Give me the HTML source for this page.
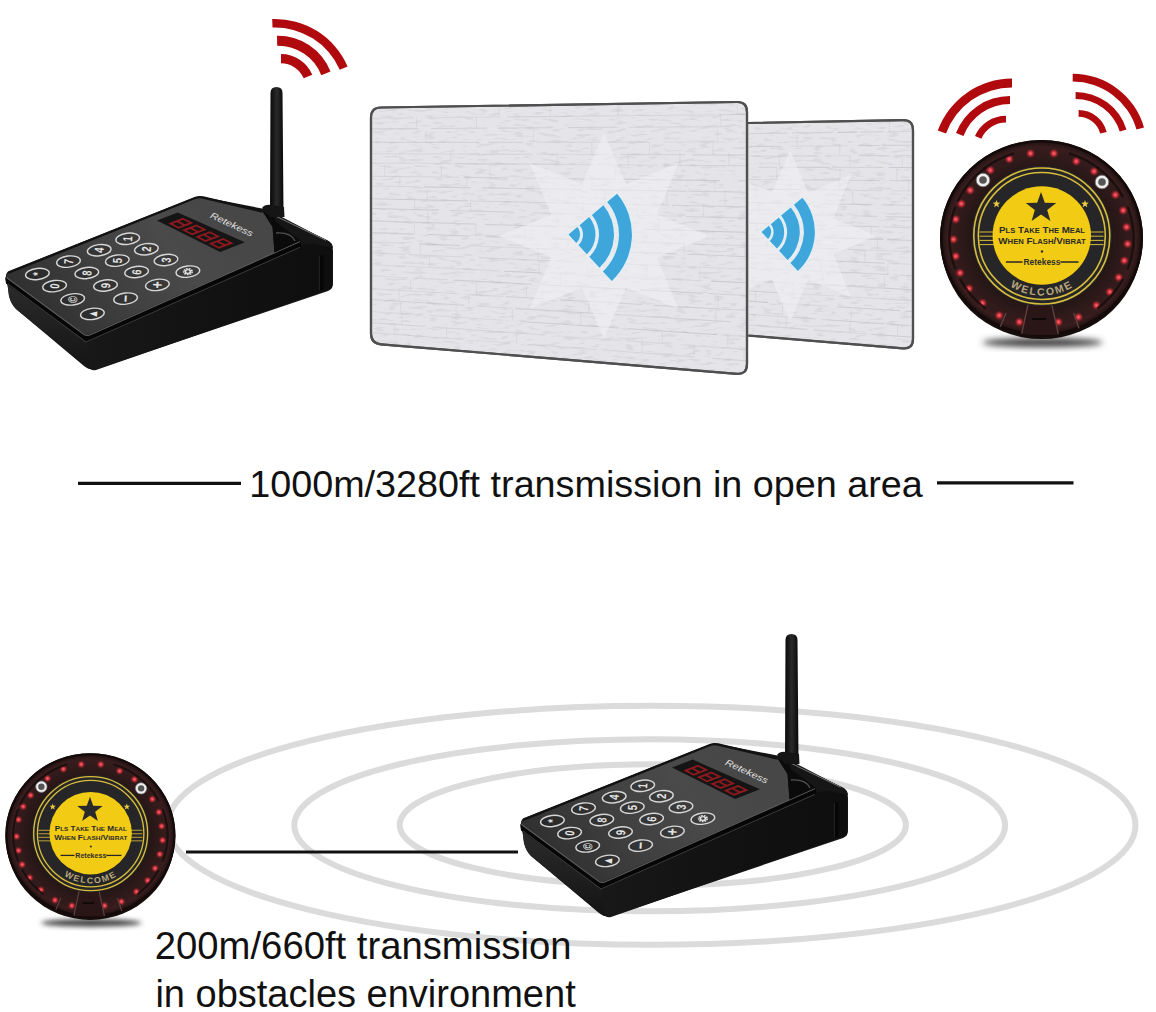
<!DOCTYPE html>
<html><head><meta charset="utf-8"><style>
html,body{margin:0;padding:0;background:#fff;}
body{width:1156px;height:1012px;overflow:hidden;font-family:"Liberation Sans",sans-serif;}
svg{display:block;}
</style></head><body>
<svg width="1156" height="1012" viewBox="0 0 1156 1012">
<defs><linearGradient id="faceG" gradientUnits="userSpaceOnUse" x1="40" y1="320" x2="200" y2="200">
<stop offset="0" stop-color="#303030"/><stop offset="0.4" stop-color="#404040"/><stop offset="0.75" stop-color="#4a4a4a"/><stop offset="1" stop-color="#474747"/></linearGradient>
<linearGradient id="bodyG" x1="0" y1="0" x2="1" y2="0">
<stop offset="0" stop-color="#181818"/><stop offset="0.5" stop-color="#121212"/><stop offset="1" stop-color="#0e0e0e"/></linearGradient>
<linearGradient id="leftG" x1="0" y1="0" x2="0" y2="1">
<stop offset="0" stop-color="#2c2c2c"/><stop offset="1" stop-color="#141414"/></linearGradient>
<linearGradient id="antG" x1="0" y1="0" x2="1" y2="0">
<stop offset="0" stop-color="#080808"/><stop offset="0.5" stop-color="#2a2a2a"/><stop offset="1" stop-color="#080808"/></linearGradient>
<radialGradient id="pagerG" cx="0.5" cy="0.5" r="0.5">
<stop offset="0.65" stop-color="#211515"/><stop offset="0.8" stop-color="#2e1919"/><stop offset="0.93" stop-color="#381d1d"/><stop offset="1" stop-color="#180d0d"/></radialGradient>
<radialGradient id="ledG" cx="0.5" cy="0.5" r="0.5">
<stop offset="0" stop-color="#ff6e78"/><stop offset="0.4" stop-color="#d0323c"/><stop offset="1" stop-color="#7a1a1e" stop-opacity="0"/></radialGradient>
<filter id="speck" x="0" y="0" width="100%" height="100%" filterUnits="objectBoundingBox">
<feTurbulence type="fractalNoise" baseFrequency="0.08 0.32" numOctaves="2" seed="5" result="n"/>
<feColorMatrix in="n" type="matrix" values="0 0 0 0 0.6  0 0 0 0 0.6  0 0 0 0 0.63  6 0 0 0 -3.3"/>
</filter>
<filter id="bblur" x="-5%" y="-5%" width="110%" height="110%"><feGaussianBlur stdDeviation="0.5"/></filter>
<filter id="blur3" x="-50%" y="-50%" width="200%" height="200%"><feGaussianBlur stdDeviation="3"/></filter>
<filter id="blur1" x="-50%" y="-50%" width="200%" height="200%"><feGaussianBlur stdDeviation="0.8"/></filter>
<g id="device"><path d="M270.5,93 Q270.5,87 276.5,87 Q282.5,87 282.5,93 L283.5,214 L270,214 Z" fill="url(#antG)"/><path d="M7,281 L9,296 Q11,304 16,309 L84,366 Q90,371 97,369 L328,291 Q333,289 333,284 L333,251 Q333,242 326,240 L278,215 L270,210 L203,197 Q198,196 193,198 L9,271 Q4,274 7,281 Z" fill="#151515"/><path d="M7,280 L87,340 L90,369 L16,309 Q11,304 9,296 Z" fill="url(#leftG)"/><path d="M87,340 L301,245 L326,242.5 Q332,244 332,250 L332,288 L96,370 Q91,371 90,368 Z" fill="url(#bodyG)"/><path d="M5,277 L87,336 L300.7,241 L301,247 L87,342 L6,283.5 Z" fill="#060606"/><path d="M8,284 L86,342 L300,247.3" fill="none" stroke="#3c3c3c" stroke-width="1"/><path d="M8,273 L195,198 Q199,196.5 203,197.5 L262.6,211.5 L272.5,227 L274.5,252.5 L91,333.5 Q87,335.5 83,333 L9,279 Q4.5,276 8,273 Z" fill="url(#faceG)"/><path d="M6.5,277.5 L84,334.5 Q87,336.3 91,334.5 L300,241.5" fill="none" stroke="#5e5e5e" stroke-width="1.1"/><path d="M8,273 L195,198 Q199,196.5 203,197.5 L262.6,211.5" fill="none" stroke="#121212" stroke-width="2.4"/><path d="M262.6,211.5 L276,218 L301,240.5 L274.5,252.5 L272.5,227 Z" fill="#0b0b0b"/><path d="M276,233 Q291,232 295,241" fill="none" stroke="#505050" stroke-width="1.3"/><path d="M273.5,214.5 L326,239.5 Q333,242.5 333,248 L301,241 L276,222 Z" fill="#161616"/><path d="M274,215.3 L326,240.3" stroke="#7a7a7a" stroke-width="1"/><path d="M319.5,256 L323.5,255 L323.5,289.5 L319.5,290.5 Z" fill="#060606"/><path d="M319.3,256 L319.3,290.5" stroke="#2e2e2e" stroke-width="0.8"/><path d="M262,208 Q265,204 271,205 L284,207 L284.5,217 L270,217 Z" fill="#151515"/><path d="M157,220.5 L177.7,212.6 L244.9,242.3 L220.2,252.1 Z" fill="#151515"/><path d="M168.32,223.42 L178.75,228.64 L193.45,223.03 L183.02,217.81 Z M172.87,223.69 L178.75,226.63 L182.68,225.13 L176.81,222.19 Z M179.08,221.32 L184.96,224.26 L188.89,222.76 L183.02,219.82 Z" fill="#8c191e" fill-rule="evenodd"/><path d="M181.72,230.12 L192.15,235.34 L206.84,229.73 L196.42,224.51 Z M186.27,230.39 L192.15,233.33 L196.08,231.83 L190.20,228.89 Z M192.48,228.02 L198.36,230.96 L202.29,229.46 L196.41,226.52 Z" fill="#8c191e" fill-rule="evenodd"/><path d="M195.12,236.82 L205.55,242.04 L220.24,236.43 L209.81,231.21 Z M199.67,237.09 L205.55,240.03 L209.48,238.53 L203.60,235.59 Z M205.88,234.72 L211.76,237.66 L215.69,236.16 L209.81,233.22 Z" fill="#8c191e" fill-rule="evenodd"/><path d="M208.52,243.52 L218.94,248.73 L233.64,243.13 L223.21,237.91 Z M213.07,243.79 L218.95,246.73 L222.88,245.23 L217.00,242.29 Z M219.28,241.42 L225.16,244.36 L229.09,242.86 L223.21,239.92 Z" fill="#8c191e" fill-rule="evenodd"/><text transform="translate(209.5,217.5) rotate(25) scale(1,0.85)" font-family="Liberation Sans" font-style="italic" font-size="10.6" fill="#e2e2e2" textLength="46" lengthAdjust="spacingAndGlyphs">Retekess</text><ellipse cx="127.7" cy="238.8" rx="11.9" ry="5.6" transform="rotate(-7 127.7 238.8)" fill="#000" fill-opacity="0.18" stroke="#d6d6d6" stroke-width="1.4"/><text x="0" y="0" text-anchor="middle" dominant-baseline="central" font-family="Liberation Sans" font-size="13" font-weight="bold" fill="#e4e4e4" transform="translate(127.7 238.8) rotate(-86) scale(0.72,1)">1</text><ellipse cx="146.4" cy="249.2" rx="11.9" ry="5.6" transform="rotate(-7 146.4 249.2)" fill="#000" fill-opacity="0.18" stroke="#d6d6d6" stroke-width="1.4"/><text x="0" y="0" text-anchor="middle" dominant-baseline="central" font-family="Liberation Sans" font-size="13" font-weight="bold" fill="#e4e4e4" transform="translate(146.4 249.2) rotate(-86) scale(0.72,1)">2</text><ellipse cx="166" cy="260" rx="11.9" ry="5.6" transform="rotate(-7 166 260)" fill="#000" fill-opacity="0.18" stroke="#d6d6d6" stroke-width="1.4"/><text x="0" y="0" text-anchor="middle" dominant-baseline="central" font-family="Liberation Sans" font-size="13" font-weight="bold" fill="#e4e4e4" transform="translate(166 260) rotate(-86) scale(0.72,1)">3</text><ellipse cx="187.9" cy="271.6" rx="11.9" ry="5.6" transform="rotate(-7 187.9 271.6)" fill="#000" fill-opacity="0.18" stroke="#d6d6d6" stroke-width="1.4"/><g transform="translate(187.9 271.6) scale(1.1,0.8)"><circle r="3.5" fill="none" stroke="#e8e8e8" stroke-width="2.3" stroke-dasharray="1.5 0.9"/><circle r="2.2" fill="none" stroke="#e8e8e8" stroke-width="1.3"/></g><ellipse cx="99.2" cy="250.2" rx="11.9" ry="5.6" transform="rotate(-7 99.2 250.2)" fill="#000" fill-opacity="0.18" stroke="#d6d6d6" stroke-width="1.4"/><text x="0" y="0" text-anchor="middle" dominant-baseline="central" font-family="Liberation Sans" font-size="13" font-weight="bold" fill="#e4e4e4" transform="translate(99.2 250.2) rotate(-86) scale(0.72,1)">4</text><ellipse cx="117.3" cy="260.6" rx="11.9" ry="5.6" transform="rotate(-7 117.3 260.6)" fill="#000" fill-opacity="0.18" stroke="#d6d6d6" stroke-width="1.4"/><text x="0" y="0" text-anchor="middle" dominant-baseline="central" font-family="Liberation Sans" font-size="13" font-weight="bold" fill="#e4e4e4" transform="translate(117.3 260.6) rotate(-86) scale(0.72,1)">5</text><ellipse cx="136.6" cy="272" rx="11.9" ry="5.6" transform="rotate(-7 136.6 272)" fill="#000" fill-opacity="0.18" stroke="#d6d6d6" stroke-width="1.4"/><text x="0" y="0" text-anchor="middle" dominant-baseline="central" font-family="Liberation Sans" font-size="13" font-weight="bold" fill="#e4e4e4" transform="translate(136.6 272) rotate(-86) scale(0.72,1)">6</text><ellipse cx="157.4" cy="284.9" rx="11.9" ry="5.6" transform="rotate(-7 157.4 284.9)" fill="#000" fill-opacity="0.18" stroke="#d6d6d6" stroke-width="1.4"/><text x="0" y="0" text-anchor="middle" dominant-baseline="central" font-family="Liberation Sans" font-size="17" font-weight="bold" fill="#e4e4e4" transform="translate(157.4 284.9) rotate(-86) scale(0.72,1)">+</text><ellipse cx="68.5" cy="261.6" rx="11.9" ry="5.6" transform="rotate(-7 68.5 261.6)" fill="#000" fill-opacity="0.18" stroke="#d6d6d6" stroke-width="1.4"/><text x="0" y="0" text-anchor="middle" dominant-baseline="central" font-family="Liberation Sans" font-size="13" font-weight="bold" fill="#e4e4e4" transform="translate(68.5 261.6) rotate(-86) scale(0.72,1)">7</text><ellipse cx="86.8" cy="273" rx="11.9" ry="5.6" transform="rotate(-7 86.8 273)" fill="#000" fill-opacity="0.18" stroke="#d6d6d6" stroke-width="1.4"/><text x="0" y="0" text-anchor="middle" dominant-baseline="central" font-family="Liberation Sans" font-size="13" font-weight="bold" fill="#e4e4e4" transform="translate(86.8 273) rotate(-86) scale(0.72,1)">8</text><ellipse cx="105.5" cy="285.5" rx="11.9" ry="5.6" transform="rotate(-7 105.5 285.5)" fill="#000" fill-opacity="0.18" stroke="#d6d6d6" stroke-width="1.4"/><text x="0" y="0" text-anchor="middle" dominant-baseline="central" font-family="Liberation Sans" font-size="13" font-weight="bold" fill="#e4e4e4" transform="translate(105.5 285.5) rotate(-86) scale(0.72,1)">9</text><ellipse cx="125.6" cy="298.6" rx="11.9" ry="5.6" transform="rotate(-7 125.6 298.6)" fill="#000" fill-opacity="0.18" stroke="#d6d6d6" stroke-width="1.4"/><text x="0" y="0" text-anchor="middle" dominant-baseline="central" font-family="Liberation Sans" font-size="17" font-weight="bold" fill="#e4e4e4" transform="translate(125.6 298.6) rotate(-86) scale(0.72,1)">−</text><ellipse cx="37.4" cy="274" rx="11.9" ry="5.6" transform="rotate(-7 37.4 274)" fill="#000" fill-opacity="0.18" stroke="#d6d6d6" stroke-width="1.4"/><text x="0" y="0" text-anchor="middle" dominant-baseline="central" font-family="Liberation Sans" font-size="13" font-weight="bold" fill="#e4e4e4" transform="translate(37.4 274) rotate(-86) scale(0.72,1)">*</text><ellipse cx="54.6" cy="286.1" rx="11.9" ry="5.6" transform="rotate(-7 54.6 286.1)" fill="#000" fill-opacity="0.18" stroke="#d6d6d6" stroke-width="1.4"/><text x="0" y="0" text-anchor="middle" dominant-baseline="central" font-family="Liberation Sans" font-size="13" font-weight="bold" fill="#e4e4e4" transform="translate(54.6 286.1) rotate(-86) scale(0.72,1)">0</text><ellipse cx="72.7" cy="299.4" rx="11.9" ry="5.6" transform="rotate(-7 72.7 299.4)" fill="#000" fill-opacity="0.18" stroke="#d6d6d6" stroke-width="1.4"/><text x="0" y="0" text-anchor="middle" dominant-baseline="central" font-family="Liberation Sans" font-size="13" font-weight="bold" fill="#e4e4e4" transform="translate(72.7 299.4) rotate(-86) scale(0.72,1)">©</text><ellipse cx="92.4" cy="313.9" rx="11.9" ry="5.6" transform="rotate(-7 92.4 313.9)" fill="#000" fill-opacity="0.18" stroke="#d6d6d6" stroke-width="1.4"/><text x="0" y="0" text-anchor="middle" dominant-baseline="central" font-family="Liberation Sans" font-size="13" font-weight="bold" fill="#e4e4e4" transform="translate(92.4 313.9) rotate(-86) scale(0.72,1)">▲</text></g><g id="pager"><ellipse cx="1" cy="104.5" rx="60" ry="4.5" fill="#404040" filter="url(#blur3)"/><ellipse cx="0" cy="3.5" rx="100.5" ry="97.5" fill="#160c0c"/><clipPath id="pclip"><ellipse cx="0" cy="0" rx="101" ry="97.5"/></clipPath><ellipse cx="0" cy="0" rx="101.5" ry="98" fill="url(#pagerG)"/><ellipse cx="0" cy="0" rx="100.2" ry="96.7" fill="none" stroke="#140a0a" stroke-width="2.6"/><g clip-path="url(#pclip)"><circle cx="-32.2" cy="-79" r="5" fill="url(#ledG)"/><circle cx="-11" cy="-84.6" r="5" fill="url(#ledG)"/><circle cx="12.4" cy="-84.6" r="5" fill="url(#ledG)"/><circle cx="34.8" cy="-76.7" r="5" fill="url(#ledG)"/><circle cx="52.6" cy="-66.7" r="5" fill="url(#ledG)"/><circle cx="73.9" cy="-43.2" r="5" fill="url(#ledG)"/><circle cx="81.7" cy="-27.6" r="5" fill="url(#ledG)"/><circle cx="85" cy="-10.9" r="5" fill="url(#ledG)"/><circle cx="86.1" cy="5.9" r="5" fill="url(#ledG)"/><circle cx="82.8" cy="22.6" r="5" fill="url(#ledG)"/><circle cx="77.2" cy="39.4" r="5" fill="url(#ledG)"/><circle cx="68.3" cy="53.9" r="5" fill="url(#ledG)"/><circle cx="54.9" cy="67.3" r="5" fill="url(#ledG)"/><circle cx="37" cy="79.1" r="5" fill="url(#ledG)"/><circle cx="16.9" cy="84" r="5" fill="url(#ledG)"/><circle cx="-51.2" cy="-67.8" r="5" fill="url(#ledG)"/><circle cx="-71.3" cy="-47.7" r="5" fill="url(#ledG)"/><circle cx="-80.2" cy="-34.3" r="5" fill="url(#ledG)"/><circle cx="-85.8" cy="-18.7" r="5" fill="url(#ledG)"/><circle cx="-88.1" cy="1.4" r="5" fill="url(#ledG)"/><circle cx="-85.8" cy="18.2" r="5" fill="url(#ledG)"/><circle cx="-81.4" cy="34.9" r="5" fill="url(#ledG)"/><circle cx="-72.4" cy="50.6" r="5" fill="url(#ledG)"/><circle cx="-59" cy="65.1" r="5" fill="url(#ledG)"/><circle cx="-42.3" cy="77.4" r="5" fill="url(#ledG)"/><circle cx="-22.2" cy="84" r="5" fill="url(#ledG)"/><circle cx="-58.5" cy="-58" r="6.8" fill="#eee" stroke="#777" stroke-width="0.8"/><circle cx="-58.5" cy="-58" r="3.8" fill="#555"/><circle cx="60.5" cy="-56" r="6.8" fill="#eee" stroke="#777" stroke-width="0.8"/><circle cx="60.5" cy="-56" r="3.8" fill="#555"/><path d="M-13.5,66.7 L10.3,66.7 L17,97 L-20.1,97 Z" fill="#2a1616"/><path d="M-13.5,66.7 L-20.1,97.2 M10.3,66.7 L17,97.2 M-35.5,75 L-41.5,89.6 M32.2,75 L37.9,91.5" stroke="#5e4040" stroke-width="1.4" fill="none"/><path d="M-9.5,81 L4.5,81" stroke="#0e0808" stroke-width="2.2"/></g><path d="M-86.5,30.4 A92,88.78 0 0 1 -86.5,-30.4" fill="none" stroke="#150c0c" stroke-width="2.4" stroke-linecap="round" opacity="0.8"/><path d="M-83.4,-37.5 A92,88.78 0 0 1 -56.6,-70.0" fill="none" stroke="#150c0c" stroke-width="2.4" stroke-linecap="round" opacity="0.8"/><path d="M-56.6,70.0 A92,88.78 0 0 1 -81.2,41.7" fill="none" stroke="#150c0c" stroke-width="2.4" stroke-linecap="round" opacity="0.8"/><path d="M86.5,-30.4 A92,88.78 0 0 1 86.5,30.4" fill="none" stroke="#150c0c" stroke-width="2.4" stroke-linecap="round" opacity="0.8"/><path d="M81.2,41.7 A92,88.78 0 0 1 56.6,70.0" fill="none" stroke="#150c0c" stroke-width="2.4" stroke-linecap="round" opacity="0.8"/><path d="M56.6,-70.0 A92,88.78 0 0 1 81.2,-41.7" fill="none" stroke="#150c0c" stroke-width="2.4" stroke-linecap="round" opacity="0.8"/><path d="M-56.6,-70.0 A92,88.78 0 0 1 -28.4,-84.4" fill="none" stroke="#150c0c" stroke-width="2.4" stroke-linecap="round" opacity="0.8"/><path d="M28.4,-84.4 A92,88.78 0 0 1 56.6,-70.0" fill="none" stroke="#150c0c" stroke-width="2.4" stroke-linecap="round" opacity="0.8"/><circle cx="0.3" cy="-2" r="70" fill="#262628"/><circle cx="0.3" cy="-2" r="68" fill="none" stroke="#d8bc3c" stroke-width="1.6"/><circle cx="0.3" cy="-2" r="63.5" fill="none" stroke="#d8bc3c" stroke-width="1.6"/><line x1="-62" y1="-6.0" x2="-46" y2="-6.0" stroke="#d8bc3c" stroke-width="1"/><line x1="46" y1="-6.0" x2="62" y2="-6.0" stroke="#d8bc3c" stroke-width="1"/><line x1="-62" y1="-1.7999999999999998" x2="-46" y2="-1.7999999999999998" stroke="#d8bc3c" stroke-width="1"/><line x1="46" y1="-1.7999999999999998" x2="62" y2="-1.7999999999999998" stroke="#d8bc3c" stroke-width="1"/><line x1="-62" y1="2.4000000000000004" x2="-46" y2="2.4000000000000004" stroke="#d8bc3c" stroke-width="1"/><line x1="46" y1="2.4000000000000004" x2="62" y2="2.4000000000000004" stroke="#d8bc3c" stroke-width="1"/><line x1="-62" y1="6.600000000000001" x2="-46" y2="6.600000000000001" stroke="#d8bc3c" stroke-width="1"/><line x1="46" y1="6.600000000000001" x2="62" y2="6.600000000000001" stroke="#d8bc3c" stroke-width="1"/><circle cx="0.3" cy="-2.5" r="49.2" fill="#f2cb14"/><path d="M-0.50,-46.00 L3.32,-35.26 L14.72,-34.94 L5.68,-27.99 L8.90,-17.06 L-0.50,-23.50 L-9.90,-17.06 L-6.68,-27.99 L-15.72,-34.94 L-4.32,-35.26 Z" fill="#2a2a2a"/><path d="M-45.00,-38.00 L-44.00,-35.38 L-41.20,-35.24 L-43.38,-33.47 L-42.65,-30.76 L-45.00,-32.30 L-47.35,-30.76 L-46.62,-33.47 L-48.80,-35.24 L-46.00,-35.38 Z" fill="#e8c840"/><path d="M43.50,-38.00 L44.50,-35.38 L47.30,-35.24 L45.12,-33.47 L45.85,-30.76 L43.50,-32.30 L41.15,-30.76 L41.88,-33.47 L39.70,-35.24 L42.50,-35.38 Z" fill="#e8c840"/><text x="0.5" y="-5.5" text-anchor="middle" font-family="Liberation Sans" font-weight="bold" font-size="9" fill="#2a2a2a" textLength="86" lengthAdjust="spacingAndGlyphs">P<tspan font-size="7">LS</tspan> T<tspan font-size="7">AKE</tspan> T<tspan font-size="7">HE</tspan> M<tspan font-size="7">EAL</tspan></text><text x="0.5" y="5.5" text-anchor="middle" font-family="Liberation Sans" font-weight="bold" font-size="9" fill="#2a2a2a" textLength="87.5" lengthAdjust="spacingAndGlyphs">W<tspan font-size="7">HEN</tspan> F<tspan font-size="7">LASH</tspan>/V<tspan font-size="7">IBRAT</tspan></text><circle cx="0.5" cy="13.5" r="1.2" fill="#2a2a2a"/><line x1="-35.6" y1="24" x2="-19" y2="24" stroke="#262626" stroke-width="1.5"/><line x1="19" y1="24" x2="37" y2="24" stroke="#262626" stroke-width="1.5"/><text x="0.5" y="27" text-anchor="middle" font-family="Liberation Sans" font-weight="bold" font-size="8.5" fill="#2e2e2e" textLength="37" lengthAdjust="spacingAndGlyphs">Retekess</text><path id="wpath" d="M-59,-2 A58,58 0 0 0 60,-2" fill="none"/><text font-family="Liberation Sans" font-size="10.5" font-weight="bold" letter-spacing="1.8" fill="#b8a77c"><textPath href="#wpath" startOffset="50%" text-anchor="middle">WELCOME</textPath></text></g></defs>
<rect width="1156" height="1012" fill="#fff"/>
<path d="M272.2,19.0 A79.3,79.3 0 0 1 347.6,66.4 L339.8,69.8 A70.8,70.8 0 0 0 272.5,27.5 Z" fill="#b0090e"/>
<path d="M277.0,35.8 A56.4,56.4 0 0 1 330.5,71.6 L321.3,75.2 A46.5,46.5 0 0 0 277.2,45.7 Z" fill="#b0090e"/>
<path d="M281.0,54.0 A34,34 0 0 1 312.3,74.7 L303.7,78.3 A24.7,24.7 0 0 0 281.0,63.3 Z" fill="#b0090e"/>
<use href="#device"/>
<path d="M747,123 L903,120.2 Q913,120 913,130 L913,339 Q913,349 903,348.3 L747,335.5 Z" fill="#e5e5e9" stroke="#4f4f4f" stroke-width="2.2"/>
<path d="M381,107.5 L737,102 Q747,101.8 747,112 L747,364 Q747,374.5 737,373.8 L381,344.3 Q371,343.5 371,333.5 L371,117.5 Q371,107.6 381,107.5 Z" fill="#e5e5e9" stroke="#4f4f4f" stroke-width="2.2"/>
<clipPath id="cc1"><path d="M381,107.5 L737,102 Q747,101.8 747,112 L747,364 Q747,374.5 737,373.8 L381,344.3 Q371,343.5 371,333.5 L371,117.5 Q371,107.6 381,107.5 Z"/></clipPath>
<clipPath id="cc2"><path d="M749,123 L903,120.2 Q913,120 913,130 L913,339 Q913,349 903,348.3 L749,335.5 Z"/></clipPath>
<g clip-path="url(#cc1)"><rect x="371" y="101" width="377" height="274" fill="#fff" filter="url(#speck)" opacity="0.45"/></g>
<g clip-path="url(#cc2)"><rect x="748" y="119" width="166" height="231" fill="#fff" filter="url(#speck)" opacity="0.45"/></g>
<g filter="url(#bblur)"><g clip-path="url(#cc1)" stroke="#b9b9bf" stroke-width="1.1" opacity="0.75"><line x1="371.0" y1="118.4" x2="413.6" y2="117.9" stroke-opacity="0.38"/><line x1="425.8" y1="117.8" x2="500.2" y2="117.0" stroke-opacity="0.38"/><line x1="507.1" y1="116.9" x2="579.1" y2="116.2" stroke-opacity="0.55"/><line x1="579.8" y1="116.1" x2="615.7" y2="115.8" stroke-opacity="0.54"/><line x1="617.4" y1="115.7" x2="715.9" y2="114.7" stroke-opacity="0.45"/><line x1="718.2" y1="114.7" x2="747.0" y2="114.4" stroke-opacity="0.61"/><line x1="499.2" y1="105.2" x2="499.2" y2="117.0" stroke-opacity="0.35"/><line x1="550.2" y1="104.4" x2="550.2" y2="116.5" stroke-opacity="0.35"/><line x1="617.9" y1="103.4" x2="617.9" y2="115.7" stroke-opacity="0.35"/><line x1="737.2" y1="101.6" x2="737.2" y2="114.5" stroke-opacity="0.35"/><line x1="371.0" y1="128.9" x2="418.1" y2="128.6" stroke-opacity="0.54"/><line x1="430.9" y1="128.5" x2="487.0" y2="128.1" stroke-opacity="0.55"/><line x1="498.0" y1="128.1" x2="552.9" y2="127.7" stroke-opacity="0.66"/><line x1="567.8" y1="127.6" x2="618.1" y2="127.3" stroke-opacity="0.59"/><line x1="628.9" y1="127.2" x2="731.3" y2="126.6" stroke-opacity="0.48"/><line x1="745.1" y1="126.5" x2="747.0" y2="126.5" stroke-opacity="0.54"/><line x1="416.5" y1="117.1" x2="416.5" y2="128.6" stroke-opacity="0.35"/><line x1="476.4" y1="116.5" x2="476.4" y2="128.2" stroke-opacity="0.35"/><line x1="720.7" y1="113.8" x2="720.7" y2="126.6" stroke-opacity="0.35"/><line x1="371.0" y1="142.3" x2="479.2" y2="142.2" stroke-opacity="0.65"/><line x1="488.1" y1="142.2" x2="523.2" y2="142.2" stroke-opacity="0.64"/><line x1="536.4" y1="142.2" x2="648.7" y2="142.1" stroke-opacity="0.48"/><line x1="664.1" y1="142.0" x2="726.1" y2="142.0" stroke-opacity="0.36"/><line x1="738.7" y1="142.0" x2="747.0" y2="142.0" stroke-opacity="0.40"/><line x1="425.8" y1="130.8" x2="425.8" y2="142.3" stroke-opacity="0.35"/><line x1="533.4" y1="130.2" x2="533.4" y2="142.2" stroke-opacity="0.35"/><line x1="717.4" y1="129.2" x2="717.4" y2="142.0" stroke-opacity="0.35"/><line x1="371.0" y1="153.7" x2="480.3" y2="154.1" stroke-opacity="0.43"/><line x1="483.1" y1="154.1" x2="532.4" y2="154.3" stroke-opacity="0.57"/><line x1="536.8" y1="154.3" x2="615.6" y2="154.6" stroke-opacity="0.35"/><line x1="620.5" y1="154.6" x2="685.3" y2="154.8" stroke-opacity="0.60"/><line x1="692.2" y1="154.9" x2="747.0" y2="155.1" stroke-opacity="0.58"/><line x1="591.8" y1="142.3" x2="591.8" y2="154.5" stroke-opacity="0.35"/><line x1="649.5" y1="142.2" x2="649.5" y2="154.7" stroke-opacity="0.35"/><line x1="712.9" y1="142.1" x2="712.9" y2="154.9" stroke-opacity="0.35"/><line x1="371.0" y1="163.1" x2="414.5" y2="163.4" stroke-opacity="0.37"/><line x1="420.9" y1="163.4" x2="451.0" y2="163.6" stroke-opacity="0.40"/><line x1="453.8" y1="163.7" x2="514.0" y2="164.1" stroke-opacity="0.74"/><line x1="514.5" y1="164.1" x2="595.4" y2="164.7" stroke-opacity="0.46"/><line x1="598.1" y1="164.7" x2="657.0" y2="165.2" stroke-opacity="0.41"/><line x1="663.8" y1="165.2" x2="747.0" y2="165.8" stroke-opacity="0.56"/><line x1="400.1" y1="151.9" x2="400.1" y2="163.3" stroke-opacity="0.35"/><line x1="450.7" y1="152.0" x2="450.7" y2="163.6" stroke-opacity="0.35"/><line x1="557.2" y1="152.3" x2="557.2" y2="164.4" stroke-opacity="0.35"/><line x1="628.2" y1="152.5" x2="628.2" y2="164.9" stroke-opacity="0.35"/><line x1="679.9" y1="152.7" x2="679.9" y2="165.3" stroke-opacity="0.35"/><line x1="728.7" y1="152.8" x2="728.7" y2="165.7" stroke-opacity="0.35"/><line x1="371.0" y1="176.2" x2="458.7" y2="177.3" stroke-opacity="0.52"/><line x1="463.6" y1="177.3" x2="507.5" y2="177.9" stroke-opacity="0.59"/><line x1="522.0" y1="178.1" x2="616.5" y2="179.3" stroke-opacity="0.45"/><line x1="622.7" y1="179.3" x2="719.9" y2="180.6" stroke-opacity="0.73"/><line x1="738.4" y1="180.8" x2="747.0" y2="180.9" stroke-opacity="0.68"/><line x1="384.6" y1="165.0" x2="384.6" y2="176.3" stroke-opacity="0.35"/><line x1="441.3" y1="165.5" x2="441.3" y2="177.1" stroke-opacity="0.35"/><line x1="490.1" y1="165.9" x2="490.1" y2="177.7" stroke-opacity="0.35"/><line x1="615.6" y1="166.9" x2="615.6" y2="179.2" stroke-opacity="0.35"/><line x1="371.0" y1="186.0" x2="419.3" y2="186.8" stroke-opacity="0.44"/><line x1="423.6" y1="186.9" x2="470.6" y2="187.7" stroke-opacity="0.76"/><line x1="482.3" y1="187.9" x2="581.9" y2="189.5" stroke-opacity="0.64"/><line x1="590.9" y1="189.6" x2="687.1" y2="191.2" stroke-opacity="0.65"/><line x1="688.7" y1="191.3" x2="747.0" y2="192.2" stroke-opacity="0.69"/><line x1="399.8" y1="175.1" x2="399.8" y2="186.5" stroke-opacity="0.35"/><line x1="466.9" y1="175.9" x2="466.9" y2="187.6" stroke-opacity="0.35"/><line x1="591.9" y1="177.4" x2="591.9" y2="189.7" stroke-opacity="0.35"/><line x1="715.1" y1="178.9" x2="715.1" y2="191.7" stroke-opacity="0.35"/><line x1="371.0" y1="198.8" x2="467.8" y2="200.9" stroke-opacity="0.72"/><line x1="470.5" y1="201.0" x2="581.7" y2="203.4" stroke-opacity="0.51"/><line x1="594.1" y1="203.6" x2="669.5" y2="205.3" stroke-opacity="0.36"/><line x1="672.0" y1="205.3" x2="747.0" y2="206.9" stroke-opacity="0.59"/><line x1="427.2" y1="188.5" x2="427.2" y2="200.0" stroke-opacity="0.35"/><line x1="549.5" y1="190.6" x2="549.5" y2="202.7" stroke-opacity="0.35"/><line x1="604.7" y1="191.6" x2="604.7" y2="203.9" stroke-opacity="0.35"/><line x1="666.9" y1="192.6" x2="666.9" y2="205.2" stroke-opacity="0.35"/><line x1="725.1" y1="193.6" x2="725.1" y2="206.5" stroke-opacity="0.35"/><line x1="371.0" y1="208.5" x2="439.0" y2="210.2" stroke-opacity="0.76"/><line x1="449.9" y1="210.5" x2="514.8" y2="212.2" stroke-opacity="0.58"/><line x1="532.1" y1="212.6" x2="606.1" y2="214.5" stroke-opacity="0.36"/><line x1="616.0" y1="214.8" x2="682.5" y2="216.4" stroke-opacity="0.35"/><line x1="685.9" y1="216.5" x2="747.0" y2="218.1" stroke-opacity="0.56"/><line x1="414.6" y1="198.2" x2="414.6" y2="209.6" stroke-opacity="0.35"/><line x1="470.6" y1="199.3" x2="470.6" y2="211.0" stroke-opacity="0.35"/><line x1="582.8" y1="201.7" x2="582.8" y2="213.9" stroke-opacity="0.35"/><line x1="636.9" y1="202.8" x2="636.9" y2="215.3" stroke-opacity="0.35"/><line x1="703.6" y1="204.2" x2="703.6" y2="217.0" stroke-opacity="0.35"/><line x1="371.0" y1="220.9" x2="476.6" y2="224.1" stroke-opacity="0.63"/><line x1="484.9" y1="224.4" x2="556.8" y2="226.6" stroke-opacity="0.66"/><line x1="566.4" y1="226.9" x2="633.9" y2="228.9" stroke-opacity="0.57"/><line x1="643.9" y1="229.2" x2="747.0" y2="232.4" stroke-opacity="0.74"/><line x1="427.7" y1="211.1" x2="427.7" y2="222.6" stroke-opacity="0.35"/><line x1="557.6" y1="214.5" x2="557.6" y2="226.6" stroke-opacity="0.35"/><line x1="608.7" y1="215.8" x2="608.7" y2="228.2" stroke-opacity="0.35"/><line x1="658.5" y1="217.1" x2="658.5" y2="229.7" stroke-opacity="0.35"/><line x1="371.0" y1="232.6" x2="413.9" y2="234.1" stroke-opacity="0.65"/><line x1="427.3" y1="234.5" x2="469.2" y2="236.0" stroke-opacity="0.79"/><line x1="485.8" y1="236.6" x2="534.1" y2="238.3" stroke-opacity="0.53"/><line x1="552.0" y1="238.9" x2="622.4" y2="241.4" stroke-opacity="0.72"/><line x1="641.0" y1="242.0" x2="684.4" y2="243.6" stroke-opacity="0.58"/><line x1="692.5" y1="243.9" x2="747.0" y2="245.8" stroke-opacity="0.49"/><line x1="414.4" y1="222.6" x2="414.4" y2="234.1" stroke-opacity="0.35"/><line x1="475.9" y1="224.5" x2="475.9" y2="236.2" stroke-opacity="0.35"/><line x1="524.5" y1="226.0" x2="524.5" y2="237.9" stroke-opacity="0.35"/><line x1="587.6" y1="227.9" x2="587.6" y2="240.2" stroke-opacity="0.35"/><line x1="371.0" y1="242.0" x2="404.4" y2="243.3" stroke-opacity="0.47"/><line x1="419.0" y1="243.9" x2="459.8" y2="245.5" stroke-opacity="0.76"/><line x1="467.7" y1="245.8" x2="565.6" y2="249.6" stroke-opacity="0.42"/><line x1="570.4" y1="249.8" x2="676.5" y2="253.9" stroke-opacity="0.67"/><line x1="687.3" y1="254.3" x2="724.7" y2="255.8" stroke-opacity="0.66"/><line x1="725.8" y1="255.8" x2="747.0" y2="256.7" stroke-opacity="0.77"/><line x1="568.1" y1="237.6" x2="568.1" y2="249.7" stroke-opacity="0.35"/><line x1="684.1" y1="241.5" x2="684.1" y2="254.2" stroke-opacity="0.35"/><line x1="744.9" y1="243.6" x2="744.9" y2="256.6" stroke-opacity="0.35"/><line x1="371.0" y1="253.0" x2="405.2" y2="254.5" stroke-opacity="0.49"/><line x1="409.0" y1="254.6" x2="464.4" y2="257.0" stroke-opacity="0.48"/><line x1="478.6" y1="257.6" x2="550.1" y2="260.7" stroke-opacity="0.51"/><line x1="553.4" y1="260.9" x2="585.0" y2="262.3" stroke-opacity="0.36"/><line x1="589.7" y1="262.5" x2="680.4" y2="266.4" stroke-opacity="0.44"/><line x1="690.8" y1="266.8" x2="747.0" y2="269.3" stroke-opacity="0.40"/><line x1="420.3" y1="243.6" x2="420.3" y2="255.1" stroke-opacity="0.35"/><line x1="537.9" y1="248.2" x2="537.9" y2="260.2" stroke-opacity="0.35"/><line x1="371.0" y1="264.8" x2="405.6" y2="266.4" stroke-opacity="0.38"/><line x1="408.0" y1="266.5" x2="499.4" y2="270.9" stroke-opacity="0.42"/><line x1="504.2" y1="271.2" x2="541.3" y2="272.9" stroke-opacity="0.74"/><line x1="557.1" y1="273.7" x2="642.6" y2="277.8" stroke-opacity="0.46"/><line x1="647.9" y1="278.1" x2="702.2" y2="280.7" stroke-opacity="0.42"/><line x1="710.9" y1="281.1" x2="747.0" y2="282.8" stroke-opacity="0.78"/><line x1="429.5" y1="256.1" x2="429.5" y2="267.6" stroke-opacity="0.35"/><line x1="539.1" y1="260.8" x2="539.1" y2="272.8" stroke-opacity="0.35"/><line x1="587.3" y1="262.9" x2="587.3" y2="275.2" stroke-opacity="0.35"/><line x1="646.8" y1="265.5" x2="646.8" y2="278.0" stroke-opacity="0.35"/><line x1="699.8" y1="267.8" x2="699.8" y2="280.6" stroke-opacity="0.35"/><line x1="371.0" y1="275.8" x2="408.5" y2="277.8" stroke-opacity="0.37"/><line x1="416.0" y1="278.1" x2="448.0" y2="279.8" stroke-opacity="0.45"/><line x1="453.7" y1="280.1" x2="532.2" y2="284.2" stroke-opacity="0.69"/><line x1="542.1" y1="284.8" x2="626.6" y2="289.2" stroke-opacity="0.75"/><line x1="640.1" y1="289.9" x2="702.4" y2="293.2" stroke-opacity="0.79"/><line x1="708.5" y1="293.5" x2="747.0" y2="295.5" stroke-opacity="0.64"/><line x1="560.5" y1="273.6" x2="560.5" y2="285.7" stroke-opacity="0.35"/><line x1="371.0" y1="288.8" x2="457.6" y2="293.8" stroke-opacity="0.45"/><line x1="470.6" y1="294.6" x2="503.3" y2="296.5" stroke-opacity="0.51"/><line x1="505.8" y1="296.6" x2="544.5" y2="298.8" stroke-opacity="0.60"/><line x1="560.2" y1="299.7" x2="642.2" y2="304.5" stroke-opacity="0.66"/><line x1="654.0" y1="305.2" x2="724.6" y2="309.2" stroke-opacity="0.71"/><line x1="724.6" y1="309.2" x2="747.0" y2="310.5" stroke-opacity="0.59"/><line x1="410.7" y1="279.7" x2="410.7" y2="291.1" stroke-opacity="0.35"/><line x1="476.5" y1="283.2" x2="476.5" y2="294.9" stroke-opacity="0.35"/><line x1="526.4" y1="285.8" x2="526.4" y2="297.8" stroke-opacity="0.35"/><line x1="592.1" y1="289.3" x2="592.1" y2="301.6" stroke-opacity="0.35"/><line x1="718.1" y1="296.0" x2="718.1" y2="308.9" stroke-opacity="0.35"/><line x1="371.0" y1="299.5" x2="464.5" y2="305.3" stroke-opacity="0.64"/><line x1="476.1" y1="306.0" x2="512.6" y2="308.3" stroke-opacity="0.46"/><line x1="515.4" y1="308.4" x2="606.9" y2="314.1" stroke-opacity="0.61"/><line x1="612.7" y1="314.5" x2="643.8" y2="316.4" stroke-opacity="0.47"/><line x1="644.9" y1="316.5" x2="730.6" y2="321.8" stroke-opacity="0.65"/><line x1="743.6" y1="322.6" x2="747.0" y2="322.8" stroke-opacity="0.56"/><line x1="399.1" y1="289.8" x2="399.1" y2="301.2" stroke-opacity="0.35"/><line x1="468.7" y1="293.8" x2="468.7" y2="305.5" stroke-opacity="0.35"/><line x1="588.9" y1="300.8" x2="588.9" y2="313.0" stroke-opacity="0.35"/><line x1="715.7" y1="308.0" x2="715.7" y2="320.9" stroke-opacity="0.35"/><line x1="371.0" y1="311.5" x2="418.5" y2="314.7" stroke-opacity="0.41"/><line x1="429.4" y1="315.4" x2="502.9" y2="320.3" stroke-opacity="0.41"/><line x1="520.8" y1="321.5" x2="618.7" y2="328.0" stroke-opacity="0.75"/><line x1="628.3" y1="328.7" x2="716.5" y2="334.6" stroke-opacity="0.75"/><line x1="720.9" y1="334.9" x2="747.0" y2="336.6" stroke-opacity="0.35"/><line x1="400.6" y1="302.1" x2="400.6" y2="313.5" stroke-opacity="0.35"/><line x1="456.0" y1="305.5" x2="456.0" y2="317.2" stroke-opacity="0.35"/><line x1="512.4" y1="309.0" x2="512.4" y2="320.9" stroke-opacity="0.35"/><line x1="580.7" y1="313.3" x2="580.7" y2="325.5" stroke-opacity="0.35"/><line x1="371.0" y1="322.6" x2="425.1" y2="326.5" stroke-opacity="0.53"/><line x1="432.1" y1="327.0" x2="544.8" y2="335.0" stroke-opacity="0.51"/><line x1="555.8" y1="335.8" x2="621.3" y2="340.5" stroke-opacity="0.37"/><line x1="626.5" y1="340.8" x2="665.0" y2="343.6" stroke-opacity="0.48"/><line x1="680.7" y1="344.7" x2="747.0" y2="349.4" stroke-opacity="0.47"/><line x1="401.7" y1="313.4" x2="401.7" y2="324.8" stroke-opacity="0.35"/><line x1="662.3" y1="330.8" x2="662.3" y2="343.4" stroke-opacity="0.35"/><line x1="727.8" y1="335.2" x2="727.8" y2="348.0" stroke-opacity="0.35"/><line x1="371.0" y1="332.6" x2="463.3" y2="339.5" stroke-opacity="0.48"/><line x1="475.5" y1="340.5" x2="509.6" y2="343.0" stroke-opacity="0.41"/><line x1="527.0" y1="344.3" x2="596.2" y2="349.5" stroke-opacity="0.48"/><line x1="602.6" y1="350.0" x2="693.8" y2="356.9" stroke-opacity="0.47"/><line x1="712.2" y1="358.3" x2="747.0" y2="360.9" stroke-opacity="0.60"/><line x1="394.7" y1="323.0" x2="394.7" y2="334.4" stroke-opacity="0.35"/><line x1="446.7" y1="326.7" x2="446.7" y2="338.3" stroke-opacity="0.35"/><line x1="516.7" y1="331.6" x2="516.7" y2="343.6" stroke-opacity="0.35"/><line x1="642.2" y1="340.5" x2="642.2" y2="353.0" stroke-opacity="0.35"/><line x1="693.7" y1="344.2" x2="693.7" y2="356.9" stroke-opacity="0.35"/><line x1="744.0" y1="347.7" x2="744.0" y2="360.7" stroke-opacity="0.35"/></g></g>
<g filter="url(#bblur)"><g clip-path="url(#cc2)" stroke="#b9b9bf" stroke-width="1.1" opacity="0.75"><line x1="700.0" y1="134.3" x2="729.1" y2="133.9" stroke-opacity="0.75"/><line x1="735.2" y1="133.8" x2="787.4" y2="133.1" stroke-opacity="0.54"/><line x1="791.8" y1="133.0" x2="833.4" y2="132.4" stroke-opacity="0.50"/><line x1="837.4" y1="132.4" x2="857.3" y2="132.1" stroke-opacity="0.79"/><line x1="860.3" y1="132.1" x2="883.2" y2="131.7" stroke-opacity="0.63"/><line x1="888.6" y1="131.7" x2="913.0" y2="131.3" stroke-opacity="0.47"/><line x1="714.8" y1="123.1" x2="714.8" y2="134.1" stroke-opacity="0.35"/><line x1="889.4" y1="119.7" x2="889.4" y2="131.7" stroke-opacity="0.35"/><line x1="700.0" y1="146.9" x2="739.2" y2="146.6" stroke-opacity="0.35"/><line x1="745.5" y1="146.5" x2="780.9" y2="146.2" stroke-opacity="0.72"/><line x1="790.7" y1="146.2" x2="847.9" y2="145.7" stroke-opacity="0.46"/><line x1="858.2" y1="145.6" x2="880.4" y2="145.5" stroke-opacity="0.59"/><line x1="882.0" y1="145.4" x2="913.0" y2="145.2" stroke-opacity="0.67"/><line x1="797.2" y1="134.7" x2="797.2" y2="146.1" stroke-opacity="0.35"/><line x1="700.0" y1="156.4" x2="723.0" y2="156.3" stroke-opacity="0.64"/><line x1="725.7" y1="156.3" x2="775.5" y2="156.1" stroke-opacity="0.38"/><line x1="776.7" y1="156.1" x2="818.3" y2="155.9" stroke-opacity="0.52"/><line x1="824.5" y1="155.9" x2="852.0" y2="155.8" stroke-opacity="0.35"/><line x1="858.4" y1="155.8" x2="889.6" y2="155.7" stroke-opacity="0.78"/><line x1="894.5" y1="155.7" x2="913.0" y2="155.6" stroke-opacity="0.56"/><line x1="714.0" y1="145.3" x2="714.0" y2="156.3" stroke-opacity="0.35"/><line x1="839.7" y1="144.2" x2="839.7" y2="155.9" stroke-opacity="0.35"/><line x1="700.0" y1="167.2" x2="748.3" y2="167.3" stroke-opacity="0.45"/><line x1="758.2" y1="167.3" x2="776.8" y2="167.3" stroke-opacity="0.54"/><line x1="780.4" y1="167.3" x2="829.4" y2="167.4" stroke-opacity="0.71"/><line x1="831.5" y1="167.4" x2="883.2" y2="167.5" stroke-opacity="0.44"/><line x1="888.6" y1="167.5" x2="913.0" y2="167.5" stroke-opacity="0.72"/><line x1="713.8" y1="156.2" x2="713.8" y2="167.2" stroke-opacity="0.35"/><line x1="779.6" y1="156.0" x2="779.6" y2="167.3" stroke-opacity="0.35"/><line x1="850.0" y1="155.7" x2="850.0" y2="167.4" stroke-opacity="0.35"/><line x1="902.2" y1="155.5" x2="902.2" y2="167.5" stroke-opacity="0.35"/><line x1="700.0" y1="179.1" x2="761.5" y2="179.6" stroke-opacity="0.53"/><line x1="763.1" y1="179.6" x2="790.1" y2="179.8" stroke-opacity="0.41"/><line x1="800.5" y1="179.9" x2="819.9" y2="180.0" stroke-opacity="0.53"/><line x1="820.6" y1="180.0" x2="879.7" y2="180.5" stroke-opacity="0.68"/><line x1="889.1" y1="180.5" x2="913.0" y2="180.7" stroke-opacity="0.50"/><line x1="776.6" y1="168.4" x2="776.6" y2="179.7" stroke-opacity="0.35"/><line x1="840.1" y1="168.5" x2="840.1" y2="180.2" stroke-opacity="0.35"/><line x1="896.8" y1="168.6" x2="896.8" y2="180.6" stroke-opacity="0.35"/><line x1="700.0" y1="188.4" x2="730.2" y2="188.8" stroke-opacity="0.78"/><line x1="733.9" y1="188.8" x2="756.7" y2="189.1" stroke-opacity="0.44"/><line x1="767.0" y1="189.2" x2="800.8" y2="189.6" stroke-opacity="0.72"/><line x1="809.5" y1="189.7" x2="846.8" y2="190.2" stroke-opacity="0.56"/><line x1="847.3" y1="190.2" x2="881.8" y2="190.6" stroke-opacity="0.44"/><line x1="891.6" y1="190.7" x2="913.0" y2="190.9" stroke-opacity="0.36"/><line x1="790.5" y1="178.1" x2="790.5" y2="189.5" stroke-opacity="0.35"/><line x1="839.0" y1="178.4" x2="839.0" y2="190.1" stroke-opacity="0.35"/><line x1="908.7" y1="178.9" x2="908.7" y2="190.9" stroke-opacity="0.35"/><line x1="700.0" y1="201.6" x2="732.9" y2="202.2" stroke-opacity="0.78"/><line x1="735.8" y1="202.3" x2="781.8" y2="203.1" stroke-opacity="0.67"/><line x1="784.6" y1="203.1" x2="816.4" y2="203.7" stroke-opacity="0.35"/><line x1="819.4" y1="203.8" x2="871.8" y2="204.7" stroke-opacity="0.64"/><line x1="881.6" y1="204.9" x2="913.0" y2="205.5" stroke-opacity="0.46"/><line x1="798.8" y1="191.9" x2="798.8" y2="203.4" stroke-opacity="0.35"/><line x1="852.5" y1="192.6" x2="852.5" y2="204.4" stroke-opacity="0.35"/><line x1="700.0" y1="212.3" x2="751.6" y2="213.5" stroke-opacity="0.70"/><line x1="760.4" y1="213.7" x2="805.9" y2="214.8" stroke-opacity="0.49"/><line x1="809.4" y1="214.9" x2="843.4" y2="215.6" stroke-opacity="0.39"/><line x1="851.7" y1="215.8" x2="878.0" y2="216.4" stroke-opacity="0.46"/><line x1="886.0" y1="216.6" x2="906.1" y2="217.1" stroke-opacity="0.60"/><line x1="906.5" y1="217.1" x2="913.0" y2="217.3" stroke-opacity="0.75"/><line x1="758.9" y1="202.4" x2="758.9" y2="213.7" stroke-opacity="0.35"/><line x1="808.6" y1="203.3" x2="808.6" y2="214.8" stroke-opacity="0.35"/><line x1="700.0" y1="221.9" x2="736.6" y2="222.9" stroke-opacity="0.65"/><line x1="743.2" y1="223.1" x2="795.3" y2="224.5" stroke-opacity="0.65"/><line x1="804.3" y1="224.7" x2="827.0" y2="225.4" stroke-opacity="0.48"/><line x1="836.0" y1="225.6" x2="879.6" y2="226.8" stroke-opacity="0.68"/><line x1="883.5" y1="226.9" x2="909.9" y2="227.7" stroke-opacity="0.46"/><line x1="912.5" y1="227.7" x2="913.0" y2="227.7" stroke-opacity="0.61"/><line x1="719.5" y1="211.4" x2="719.5" y2="222.4" stroke-opacity="0.35"/><line x1="790.9" y1="213.0" x2="790.9" y2="224.4" stroke-opacity="0.35"/><line x1="700.0" y1="233.4" x2="755.4" y2="235.2" stroke-opacity="0.76"/><line x1="764.4" y1="235.5" x2="783.3" y2="236.2" stroke-opacity="0.40"/><line x1="786.4" y1="236.3" x2="812.4" y2="237.1" stroke-opacity="0.61"/><line x1="822.7" y1="237.5" x2="883.3" y2="239.5" stroke-opacity="0.74"/><line x1="887.3" y1="239.6" x2="913.0" y2="240.5" stroke-opacity="0.70"/><line x1="756.4" y1="224.0" x2="756.4" y2="235.3" stroke-opacity="0.35"/><line x1="871.2" y1="227.2" x2="871.2" y2="239.1" stroke-opacity="0.35"/><line x1="700.0" y1="243.7" x2="729.0" y2="244.8" stroke-opacity="0.64"/><line x1="735.4" y1="245.0" x2="761.9" y2="246.0" stroke-opacity="0.50"/><line x1="762.1" y1="246.0" x2="810.9" y2="247.9" stroke-opacity="0.49"/><line x1="812.9" y1="248.0" x2="839.4" y2="249.0" stroke-opacity="0.60"/><line x1="847.9" y1="249.3" x2="867.9" y2="250.1" stroke-opacity="0.53"/><line x1="869.0" y1="250.1" x2="911.8" y2="251.7" stroke-opacity="0.39"/><line x1="767.3" y1="234.9" x2="767.3" y2="246.2" stroke-opacity="0.35"/><line x1="877.5" y1="238.5" x2="877.5" y2="250.4" stroke-opacity="0.35"/><line x1="700.0" y1="255.2" x2="757.5" y2="257.7" stroke-opacity="0.51"/><line x1="768.2" y1="258.1" x2="794.4" y2="259.3" stroke-opacity="0.44"/><line x1="802.2" y1="259.6" x2="819.5" y2="260.3" stroke-opacity="0.54"/><line x1="829.1" y1="260.8" x2="884.6" y2="263.2" stroke-opacity="0.75"/><line x1="888.9" y1="263.4" x2="913.0" y2="264.4" stroke-opacity="0.36"/><line x1="802.3" y1="248.1" x2="802.3" y2="259.6" stroke-opacity="0.35"/><line x1="864.9" y1="250.5" x2="864.9" y2="262.3" stroke-opacity="0.35"/><line x1="700.0" y1="265.4" x2="730.3" y2="266.9" stroke-opacity="0.77"/><line x1="735.9" y1="267.2" x2="758.0" y2="268.2" stroke-opacity="0.71"/><line x1="763.2" y1="268.5" x2="825.6" y2="271.5" stroke-opacity="0.41"/><line x1="827.7" y1="271.6" x2="888.9" y2="274.5" stroke-opacity="0.57"/><line x1="899.3" y1="275.0" x2="913.0" y2="275.7" stroke-opacity="0.52"/><line x1="821.3" y1="259.7" x2="821.3" y2="271.3" stroke-opacity="0.35"/><line x1="887.8" y1="262.6" x2="887.8" y2="274.5" stroke-opacity="0.35"/><line x1="700.0" y1="278.1" x2="755.9" y2="281.2" stroke-opacity="0.45"/><line x1="757.8" y1="281.3" x2="793.6" y2="283.2" stroke-opacity="0.52"/><line x1="799.1" y1="283.5" x2="821.9" y2="284.7" stroke-opacity="0.68"/><line x1="824.6" y1="284.9" x2="883.7" y2="288.1" stroke-opacity="0.60"/><line x1="884.1" y1="288.1" x2="913.0" y2="289.7" stroke-opacity="0.73"/><line x1="707.0" y1="267.5" x2="707.0" y2="278.5" stroke-opacity="0.35"/><line x1="822.9" y1="273.2" x2="822.9" y2="284.8" stroke-opacity="0.35"/><line x1="884.5" y1="276.2" x2="884.5" y2="288.1" stroke-opacity="0.35"/><line x1="700.0" y1="288.1" x2="737.6" y2="290.3" stroke-opacity="0.63"/><line x1="737.8" y1="290.3" x2="777.8" y2="292.7" stroke-opacity="0.69"/><line x1="780.3" y1="292.8" x2="833.9" y2="296.0" stroke-opacity="0.43"/><line x1="838.8" y1="296.3" x2="878.0" y2="298.6" stroke-opacity="0.41"/><line x1="879.1" y1="298.6" x2="913.0" y2="300.6" stroke-opacity="0.55"/><line x1="730.4" y1="278.8" x2="730.4" y2="289.9" stroke-opacity="0.35"/><line x1="793.3" y1="282.2" x2="793.3" y2="293.6" stroke-opacity="0.35"/><line x1="700.0" y1="298.0" x2="740.7" y2="300.6" stroke-opacity="0.78"/><line x1="744.7" y1="300.9" x2="768.1" y2="302.4" stroke-opacity="0.80"/><line x1="777.2" y1="303.0" x2="828.6" y2="306.2" stroke-opacity="0.44"/><line x1="837.3" y1="306.8" x2="900.3" y2="310.8" stroke-opacity="0.78"/><line x1="905.5" y1="311.1" x2="913.0" y2="311.6" stroke-opacity="0.70"/><line x1="755.5" y1="290.3" x2="755.5" y2="301.6" stroke-opacity="0.35"/><line x1="700.0" y1="310.9" x2="723.8" y2="312.6" stroke-opacity="0.76"/><line x1="729.1" y1="312.9" x2="755.9" y2="314.8" stroke-opacity="0.58"/><line x1="758.7" y1="315.0" x2="790.7" y2="317.2" stroke-opacity="0.43"/><line x1="791.1" y1="317.3" x2="815.7" y2="319.0" stroke-opacity="0.66"/><line x1="825.7" y1="319.7" x2="884.7" y2="323.8" stroke-opacity="0.70"/><line x1="886.5" y1="323.9" x2="908.9" y2="325.5" stroke-opacity="0.64"/><line x1="782.4" y1="305.3" x2="782.4" y2="316.6" stroke-opacity="0.35"/><line x1="851.2" y1="309.7" x2="851.2" y2="321.4" stroke-opacity="0.35"/><line x1="700.0" y1="321.4" x2="735.5" y2="324.0" stroke-opacity="0.47"/><line x1="744.0" y1="324.7" x2="807.5" y2="329.4" stroke-opacity="0.51"/><line x1="813.6" y1="329.9" x2="866.5" y2="333.8" stroke-opacity="0.43"/><line x1="871.2" y1="334.2" x2="913.0" y2="337.3" stroke-opacity="0.72"/><line x1="786.3" y1="316.4" x2="786.3" y2="327.8" stroke-opacity="0.35"/><line x1="849.9" y1="320.9" x2="849.9" y2="332.6" stroke-opacity="0.35"/><line x1="897.6" y1="324.2" x2="897.6" y2="336.2" stroke-opacity="0.35"/></g></g>
<path d="M604.0,133.0 L625.9,184.3 L678.3,163.2 L656.8,214.6 L709.1,236.0 L656.8,257.4 L678.3,308.8 L625.9,287.7 L604.0,339.0 L582.1,287.7 L529.7,308.8 L551.2,257.4 L498.9,236.0 L551.2,214.6 L529.7,163.2 L582.1,184.3 Z" fill="#f2f2f5" opacity="0.55"/>
<clipPath id="c2"><rect x="749" y="110" width="163" height="240"/></clipPath>
<g clip-path="url(#c2)"><path d="M790.0,150.0 L808.0,192.6 L850.8,175.2 L833.4,218.0 L876.0,236.0 L833.4,254.0 L850.8,296.8 L808.0,279.4 L790.0,322.0 L772.0,279.4 L729.2,296.8 L746.6,254.0 L704.0,236.0 L746.6,218.0 L729.2,175.2 L772.0,192.6 Z" fill="#f2f2f5" opacity="0.55"/></g>
<g stroke="#d8f4ff" stroke-width="1.2" paint-order="stroke"><path d="M568.5,234.5 L577.3,227.1 A11.5,11.5 0 0 1 576.3,242.9 Z" fill="#3ea6da"/><path d="M589.2,217.1 A27.0,27.0 0 0 1 586.9,254.2 L578.4,245.1 A14.5,14.5 0 0 0 579.6,225.2 Z" fill="#3ea6da"/><path d="M603.4,205.3 A45.5,45.5 0 0 1 599.5,267.8 L589.3,256.8 A30.5,30.5 0 0 0 591.9,214.9 Z" fill="#3ea6da"/><path d="M617.1,193.7 A63.5,63.5 0 0 1 611.8,280.9 L602.9,271.4 A50.5,50.5 0 0 0 607.2,202.0 Z" fill="#3ea6da"/></g>
<g stroke="#d8f4ff" stroke-width="1.2" paint-order="stroke"><path d="M761.5,232 L768.9,225.8 A9.66,9.66 0 0 1 768.1,239.1 Z" fill="#3ea6da"/><path d="M778.9,217.4 A22.68,22.68 0 0 1 777.0,248.6 L769.8,240.9 A12.18,12.18 0 0 0 770.8,224.2 Z" fill="#3ea6da"/><path d="M790.8,207.4 A38.22,38.22 0 0 1 787.6,260.0 L779.0,250.7 A25.619999999999997,25.619999999999997 0 0 0 781.1,215.5 Z" fill="#3ea6da"/><path d="M802.4,197.7 A53.339999999999996,53.339999999999996 0 0 1 797.9,271.0 L790.4,263.0 A42.42,42.42 0 0 0 794.0,204.7 Z" fill="#3ea6da"/></g>
<path d="M749,123 L903,120.2 Q913,120 913,130 L913,339 Q913,349 903,348.3 L749,335.5" fill="none" stroke="#4f4f4f" stroke-width="2.2"/>
<path d="M381,107.5 L737,102 Q747,101.8 747,112 L747,364 Q747,374.5 737,373.8 L381,344.3 Q371,343.5 371,333.5 L371,117.5 Q371,107.6 381,107.5 Z" fill="none" stroke="#4f4f4f" stroke-width="2.2"/>
<use href="#pager" transform="translate(1041.5,238)"/>
<path d="M937.8,130.6 A79,79 0 0 1 1012.0,78.6 L1012.0,87.4 A70.2,70.2 0 0 0 946.0,133.6 Z" fill="#b0090e"/>
<path d="M956.0,133.0 A57.9,57.9 0 0 1 1010.0,96.0 L1010.0,104.0 A49.9,49.9 0 0 0 963.5,135.9 Z" fill="#b0090e"/>
<path d="M975.0,136.0 A33.8,33.8 0 0 1 1006.0,115.7 L1006.0,122.6 A26.9,26.9 0 0 0 981.3,138.8 Z" fill="#b0090e"/>
<path d="M1072.7,73.7 A74.2,74.2 0 0 1 1144.0,127.4 L1136.5,129.6 A66.4,66.4 0 0 0 1072.7,81.5 Z" fill="#b0090e"/>
<path d="M1075.6,92.0 A53.3,53.3 0 0 1 1126.5,129.4 L1119.8,131.5 A46.3,46.3 0 0 0 1075.6,99.0 Z" fill="#b0090e"/>
<path d="M1078.6,110.0 A29,29 0 0 1 1106.7,132.0 L1100.2,133.6 A22.3,22.3 0 0 0 1078.6,116.7 Z" fill="#b0090e"/>
<line x1="78" y1="483.3" x2="241" y2="483.3" stroke="#111" stroke-width="3.2"/>
<line x1="937" y1="482.8" x2="1073.5" y2="482.8" stroke="#111" stroke-width="3.2"/>
<text x="249.2" y="496.8" font-family="Liberation Sans" font-size="37.75" fill="#111" textLength="673.6" lengthAdjust="spacing">1000m/3280ft transmission in open area</text>
<ellipse cx="651.5" cy="825.3" rx="484" ry="119.5" fill="none" stroke="#dbdbdb" stroke-width="6"/>
<ellipse cx="649.7" cy="825.3" rx="355.4" ry="86" fill="none" stroke="#dbdbdb" stroke-width="6"/>
<ellipse cx="652.8" cy="825" rx="253.1" ry="60.7" fill="none" stroke="#dbdbdb" stroke-width="6"/>
<use href="#device" transform="translate(515,547)"/>
<line x1="186" y1="852" x2="518" y2="852" stroke="#111" stroke-width="3.2"/>
<use href="#pager" transform="translate(90.4,835.3) scale(0.838)"/>
<text x="154.8" y="959.4" font-family="Liberation Sans" font-size="38.25" fill="#111" textLength="416.7" lengthAdjust="spacing">200m/660ft transmission</text>
<text x="155.4" y="1006.6" font-family="Liberation Sans" font-size="38" fill="#111" textLength="420.3" lengthAdjust="spacing">in obstacles environment</text>
</svg>
</body></html>
